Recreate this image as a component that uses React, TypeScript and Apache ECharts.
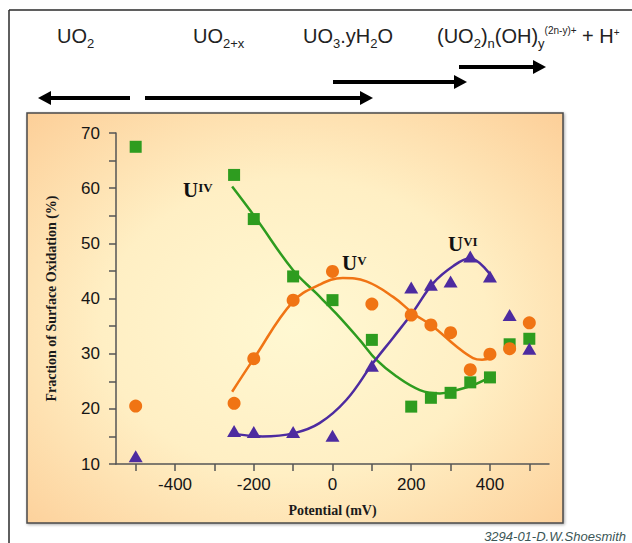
import React, { useEffect, useRef } from "react";
import * as echarts from "echarts";

// ---- data ----
const xTickValues = [-500, -400, -300, -200, -100, 0, 100, 200, 300, 400, 500];
const xLabelValues = [-400, -200, 0, 200, 400];

const uIVPoints = [
  [-500, 67.5], [-250, 62.4], [-200, 54.4], [-100, 44.0], [0, 39.7], [100, 32.5],
  [200, 20.4], [250, 22.0], [300, 22.9], [350, 24.8], [400, 25.7], [450, 31.7], [500, 32.7],
];
const uVPoints = [
  [-500, 20.5], [-250, 21.0], [-200, 29.1], [-100, 39.7], [0, 44.9], [100, 39.0],
  [200, 37.0], [250, 35.2], [300, 33.8], [350, 27.1], [400, 29.9], [450, 30.9], [500, 35.6],
];
const uVIPoints = [
  [-500, 11.4], [-250, 16.0], [-200, 15.8], [-100, 15.8], [0, 15.1], [100, 27.8],
  [200, 42.0], [250, 42.5], [300, 43.1], [350, 47.6], [400, 44.0], [450, 37.0], [500, 30.9],
];

const uIVFit = [
  [-255, 60.3], [-194, 54.5], [-101, 45.2], [-42, 41.0], [9, 37.3], [69, 32.5],
  [111, 28.9], [162, 25.9], [222, 23.4], [273, 22.8], [315, 23.4], [357, 24.3], [404, 25.9],
];
const uVFit = [
  [-255, 23.1], [-199, 29.2], [-101, 39.4], [-33, 42.5], [26, 43.7], [86, 43.1],
  [154, 40.3], [205, 37.3], [256, 34.9], [315, 31.3], [357, 29.2], [380, 28.9], [404, 29.3],
];
const uVIFit = [
  [-258, 15.6], [-178, 15.0], [-97, 15.6], [-33, 17.4], [35, 21.6], [103, 28.3],
  [154, 32.9], [205, 37.6], [256, 42.8], [307, 45.9], [349, 47.3], [404, 44.0],
];

const GREEN = "#2e9c1f";
const ORANGE = "#f07414";
const PURPLE = "#4d2ba0";

const SANS = '"Liberation Sans", Arial, Helvetica, sans-serif';
const SERIF = '"Liberation Serif", "Times New Roman", Times, serif';

type Part = { t: string; size: number; dy?: number; weight?: string; family?: string; style?: string };

let measureCtx: CanvasRenderingContext2D | null = null;
function measure(t: string, font: string): number {
  if (!measureCtx) measureCtx = document.createElement("canvas").getContext("2d");
  if (!measureCtx) return t.length * 8;
  measureCtx.font = font;
  return measureCtx.measureText(t).width;
}

function textRun(x0: number, baseline: number, parts: Part[], fill: string, z = 10): any[] {
  const out: any[] = [];
  let x = x0;
  for (const p of parts) {
    const family = p.family || SANS;
    const font = `${p.style || "normal"} ${p.weight || "normal"} ${p.size}px ${family}`;
    const y = baseline + (p.dy || 0) - p.size * 0.36;
    out.push({
      type: "text",
      x,
      y,
      z,
      style: {
        text: p.t,
        font,
        fill,
        align: "left",
        verticalAlign: "middle",
        textAlign: "left",
        textVerticalAlign: "middle",
      },
    });
    x += measure(p.t, font);
  }
  return out;
}

function arrow(tailX: number, tipX: number, y: number): any[] {
  const dir = tipX > tailX ? 1 : -1;
  const headLen = 13;
  const headHalf = 7;
  const baseX = tipX - dir * headLen;
  return [
    {
      type: "line",
      z: 10,
      shape: { x1: tailX, y1: y, x2: baseX + dir * 1, y2: y },
      style: { stroke: "#000", lineWidth: 4 },
    },
    {
      type: "polygon",
      z: 10,
      shape: { points: [[tipX, y], [baseX, y - headHalf], [baseX, y + headHalf]] },
      style: { fill: "#000" },
    },
  ];
}

export default function App() {
  const ref = useRef<HTMLDivElement>(null);

  useEffect(() => {
    if (!ref.current) return;
    const chart = echarts.init(ref.current, null, { renderer: "svg" });

    const main = 20;
    const sub = 13;
    const sup = 10;
    const HB = 43; // header baseline
    const header: any[] = [
      ...textRun(57, HB, [{ t: "UO", size: main }, { t: "2", size: sub, dy: 5 }], "#222"),
      ...textRun(193, HB, [{ t: "UO", size: main }, { t: "2+x", size: sub, dy: 5 }], "#222"),
      ...textRun(303, HB, [
        { t: "UO", size: main }, { t: "3", size: sub, dy: 5 }, { t: ".yH", size: main },
        { t: "2", size: sub, dy: 5 }, { t: "O", size: main },
      ], "#222"),
      ...textRun(437, HB, [
        { t: "(UO", size: main }, { t: "2", size: sub, dy: 5 }, { t: ")", size: main },
        { t: "n", size: sub, dy: 5 }, { t: "(OH)", size: main }, { t: "y", size: sub, dy: 5 },
        { t: "(2n-y)+", size: sup, dy: -9 }, { t: " + H", size: main }, { t: "+", size: sup, dy: -7 },
      ], "#222"),
    ];

    const arrows = [
      ...arrow(130, 38, 98),
      ...arrow(145, 373, 98),
      ...arrow(333, 467, 82),
      ...arrow(459, 546, 67),
    ];

    const ann = (x: number, b: number, s: string) => [
      ...textRun(x, b, [
        { t: "U", size: 21, weight: "bold", family: SERIF },
        { t: s, size: 13, weight: "bold", family: SERIF, dy: -6 },
      ], "#111", 20),
    ];

    const option: any = {
      animation: false,
      backgroundColor: "#ffffff",
      grid: { left: 116, right: 83, top: 133, bottom: 79, containLabel: false },
      xAxis: {
        type: "value",
        min: -550,
        max: 550,
        name: "Potential (mV)",
        nameLocation: "middle",
        nameGap: 39,
        nameTextStyle: { fontFamily: SERIF, fontWeight: "bold", fontSize: 14, color: "#1a1a1a" },
        axisLine: { show: true, onZero: false, lineStyle: { color: "#555", width: 1.5 } },
        axisTick: { show: true, inside: false, length: 7, customValues: xTickValues, lineStyle: { color: "#555", width: 1.5 } },
        axisLabel: { customValues: xLabelValues, margin: 12, fontSize: 17, color: "#151515", fontFamily: SANS },
        splitLine: { show: false },
      },
      yAxis: {
        type: "value",
        min: 10,
        max: 70,
        interval: 5,
        name: "Fraction of Surface Oxidation (%)",
        nameLocation: "middle",
        nameGap: 58,
        nameTextStyle: { fontFamily: SERIF, fontWeight: "bold", fontSize: 14, color: "#1a1a1a" },
        axisLine: { show: true, onZero: false, lineStyle: { color: "#555", width: 1.5 } },
        axisTick: { show: true, inside: false, length: 7, lineStyle: { color: "#555", width: 1.5 } },
        axisLabel: {
          margin: 16,
          fontSize: 17,
          color: "#151515",
          fontFamily: SANS,
          formatter: (v: number) => (v % 10 === 0 ? String(v) : ""),
        },
        splitLine: { show: false },
      },
      graphic: [
        // outer frame
        { type: "line", z: -5, shape: { x1: 9, y1: 10, x2: 632, y2: 10 }, style: { stroke: "#2a2a2a", lineWidth: 1.5 } },
        { type: "line", z: -5, shape: { x1: 9, y1: 10, x2: 9, y2: 543 }, style: { stroke: "#2a2a2a", lineWidth: 1.5 } },
        // panel
        {
          type: "rect",
          z: -10,
          shape: { x: 27, y: 113, width: 536, height: 410 },
          style: {
            fill: new echarts.graphic.RadialGradient(0.5, 0.52, 0.8, [
              { offset: 0, color: "#fff8d2" },
              { offset: 0.45, color: "#ffefc4" },
              { offset: 1, color: "#fcc88f" },
            ]),
            stroke: "#4a4a4a",
            lineWidth: 1.5,
            shadowBlur: 3,
            shadowColor: "rgba(0,0,0,0.35)",
            shadowOffsetX: 1,
            shadowOffsetY: 1,
          },
        },
        ...header,
        ...arrows,
        ...ann(183, 198, "IV"),
        ...ann(342, 271, "V"),
        ...ann(448, 252, "VI"),
        {
          type: "text",
          x: 626,
          y: 536,
          z: 10,
          style: {
            text: "3294-01-D.W.Shoesmith",
            font: `italic normal 13px ${SANS}`,
            fill: "#3b5656",
            align: "right",
            verticalAlign: "middle",
            textAlign: "right",
            textVerticalAlign: "middle",
          },
        },
      ],
      series: [
        { name: "UIV fit", type: "line", data: uIVFit, smooth: 0.4, showSymbol: false, lineStyle: { color: GREEN, width: 2.5 }, z: 2 },
        { name: "UV fit", type: "line", data: uVFit, smooth: 0.4, showSymbol: false, lineStyle: { color: ORANGE, width: 2.5 }, z: 2 },
        { name: "UVI fit", type: "line", data: uVIFit, smooth: 0.4, showSymbol: false, lineStyle: { color: PURPLE, width: 2.5 }, z: 2 },
        { name: "UIV", type: "scatter", data: uIVPoints, symbol: "rect", symbolSize: 12, itemStyle: { color: GREEN, opacity: 1 }, z: 3 },
        { name: "UV", type: "scatter", data: uVPoints, symbol: "circle", symbolSize: 13, itemStyle: { color: ORANGE, opacity: 1 }, z: 3 },
        { name: "UVI", type: "scatter", data: uVIPoints, symbol: "triangle", symbolSize: [14, 12], itemStyle: { color: PURPLE, opacity: 1 }, z: 3 },
      ],
    };

    chart.setOption(option);
    return () => chart.dispose();
  }, []);

  return (
    <div
      ref={ref}
      style={{ position: "fixed", left: 0, top: 0, width: 632, height: 543, background: "#fff" }}
    />
  );
}
